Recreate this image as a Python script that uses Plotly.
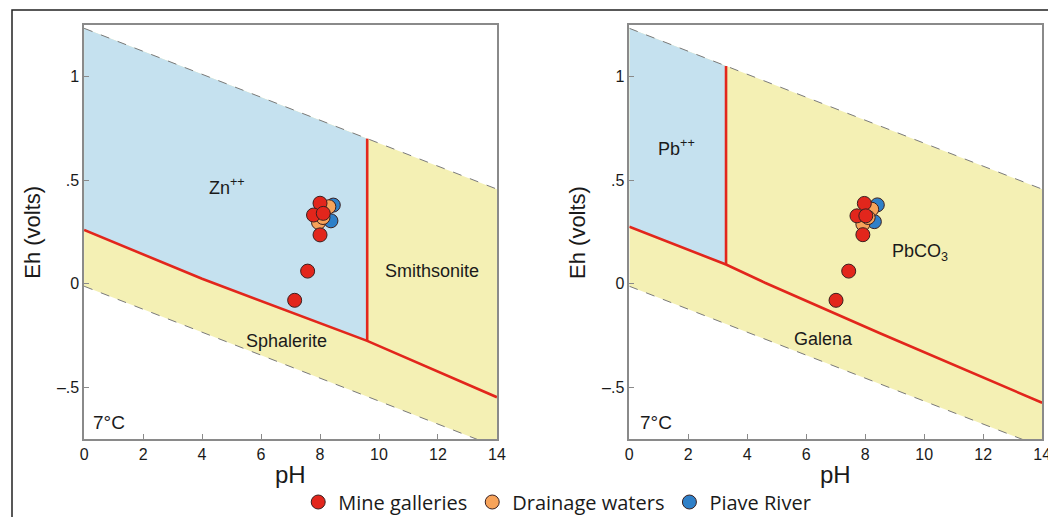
import plotly.graph_objects as go
from plotly.subplots import make_subplots

W, H = 1056, 517
OFF = 8  # page body margin that the browser adds around the figure

RED        = "#e2261c"
ORANGE     = "#f7a35a"
BLUE       = "#2f80c8"
FILL_BLUE  = "#c5e1ef"
FILL_YEL   = "#f4f0b4"
FRAME      = "#8a8a8a"
DARK       = "#1a1a1a"

# water stability limits (same on both panels)
WATER_PH    = [0, 14]
WATER_UPPER = [1.234, 0.457]
WATER_LOWER = [-0.012, -0.789]

# Zn panel boundaries
ZN_LOW_PH   = [0, 4.0, 9.6, 14]
ZN_LOW_EH   = [0.26, 0.024, -0.276, -0.548]
ZN_VERT_PH  = [9.6, 9.6]
ZN_VERT_EH  = [-0.276, 0.701]

# Pb panel boundaries
PB_LOW_PH   = [0, 3.28, 4.6, 8.5, 14]
PB_LOW_EH   = [0.275, 0.093, 0.005, -0.239, -0.575]
PB_VERT_PH  = [3.28, 3.28]
PB_VERT_EH  = [0.093, 1.052]

# samples, Zn panel
ZN_MINE_PH  = [8.0, 7.78, 8.11, 8.0, 7.58, 7.14]
ZN_MINE_EH  = [0.389, 0.332, 0.340, 0.236, 0.061, -0.080]
ZN_DRAIN_PH = [8.30, 7.95, 8.10]
ZN_DRAIN_EH = [0.372, 0.296, 0.320]
ZN_RIVER_PH = [8.45, 8.37]
ZN_RIVER_EH = [0.380, 0.304]

# samples, Pb panel
PB_MINE_PH  = [7.97, 7.72, 8.02, 7.92, 7.44, 7.01]
PB_MINE_EH  = [0.388, 0.328, 0.328, 0.237, 0.061, -0.080]
PB_DRAIN_PH = [8.22, 7.92, 8.10]
PB_DRAIN_EH = [0.360, 0.288, 0.320]
PB_RIVER_PH = [8.41, 8.31]
PB_RIVER_EH = [0.381, 0.300]

Y_TICKS  = [-0.5, 0, 0.5, 1]
Y_LABELS = ["–.5", "0", ".5", "1"]
X_TICKS  = [0, 2, 4, 6, 8, 10, 12, 14]


def px_x(p):
    return (p - OFF) / W


def px_y(p):
    return 1 - (p - OFF) / H


fig = make_subplots(rows=1, cols=2)


def add_panel(col, low_ph, low_eh, vert_ph, vert_eh, pts):
    # whole water field in yellow
    fig.add_trace(go.Scatter(
        x=WATER_PH + WATER_PH[::-1], y=WATER_UPPER + WATER_LOWER[::-1],
        fill="toself", fillcolor=FILL_YEL, mode="none",
        showlegend=False, hoverinfo="skip"), row=1, col=col)
    # aqueous ion field in blue (left of the vertical boundary)
    k = low_ph.index(vert_ph[0])
    bx = [0, vert_ph[1], vert_ph[0]] + low_ph[:k][::-1]
    by = [WATER_UPPER[0], vert_eh[1], vert_eh[0]] + low_eh[:k][::-1]
    fig.add_trace(go.Scatter(
        x=bx, y=by, fill="toself", fillcolor=FILL_BLUE, mode="none",
        showlegend=False, hoverinfo="skip"), row=1, col=col)
    for ys in (WATER_UPPER, WATER_LOWER):
        fig.add_trace(go.Scatter(
            x=WATER_PH, y=ys, mode="lines",
            line=dict(color="#7a7a7a", width=1, dash="dash"),
            showlegend=False, hoverinfo="skip"), row=1, col=col)
    fig.add_trace(go.Scatter(
        x=low_ph, y=low_eh, mode="lines", line=dict(color=RED, width=2.6),
        showlegend=False, hoverinfo="skip"), row=1, col=col)
    fig.add_trace(go.Scatter(
        x=vert_ph, y=vert_eh, mode="lines", line=dict(color=RED, width=2.6),
        showlegend=False, hoverinfo="skip"), row=1, col=col)
    # samples: river below, drainage, mine on top
    for name, color, xs, ys, rank in pts:
        fig.add_trace(go.Scatter(
            x=xs, y=ys, mode="markers", name=name,
            marker=dict(color=color, size=14, line=dict(color="#3a2020", width=1)),
            showlegend=(col == 1), legendrank=rank), row=1, col=col)


add_panel(1, ZN_LOW_PH, ZN_LOW_EH, ZN_VERT_PH, ZN_VERT_EH, [
    ("Piave River", BLUE, ZN_RIVER_PH, ZN_RIVER_EH, 3),
    ("Drainage waters", ORANGE, ZN_DRAIN_PH, ZN_DRAIN_EH, 2),
    ("Mine galleries", RED, ZN_MINE_PH, ZN_MINE_EH, 1),
])
add_panel(2, PB_LOW_PH, PB_LOW_EH, PB_VERT_PH, PB_VERT_EH, [
    ("Piave River", BLUE, PB_RIVER_PH, PB_RIVER_EH, 3),
    ("Drainage waters", ORANGE, PB_DRAIN_PH, PB_DRAIN_EH, 2),
    ("Mine galleries", RED, PB_MINE_PH, PB_MINE_EH, 1),
])

axis_style = dict(
    showline=True, mirror=True, linecolor=FRAME, linewidth=1.5,
    ticks="inside", ticklen=5, tickcolor=FRAME, showgrid=False, zeroline=False,
    tickfont=dict(family="Liberation Sans, Arial", size=16, color=DARK),
)
fig.update_xaxes(range=[0, 14], tickvals=X_TICKS, **axis_style)
fig.update_yaxes(range=[-0.75, 1.25], tickvals=Y_TICKS, ticktext=Y_LABELS, **axis_style)

fig.update_layout(
    xaxis=dict(domain=[px_x(81), px_x(499)]),
    xaxis2=dict(domain=[px_x(633), px_x(1051)]),
    yaxis=dict(domain=[px_y(439), px_y(25)]),
    yaxis2=dict(domain=[px_y(439), px_y(25)]),
)

lbl = dict(family="Liberation Sans, Arial", size=18, color=DARK)
notes = [
    ("x", "y", 4.85, 0.47, "Zn<sup>++</sup>"),
    ("x", "y", 11.8, 0.06, "Smithsonite"),
    ("x", "y", 6.87, -0.276, "Sphalerite"),
    ("x", "y", 0.85, -0.67, "7°C"),
    ("x2", "y2", 1.6, 0.66, "Pb<sup>++</sup>"),
    ("x2", "y2", 9.85, 0.15, "PbCO<sub>3</sub>"),
    ("x2", "y2", 6.6, -0.265, "Galena"),
    ("x2", "y2", 0.9, -0.67, "7°C"),
]
for xr, yr, x, y, t in notes:
    f = dict(lbl, size=19) if t == "7°C" else lbl
    fig.add_annotation(xref=xr, yref=yr, x=x, y=y, text=t, showarrow=False, font=f)

title_font = dict(family="Liberation Sans, Arial", size=22, color=DARK)
for tx in (28, 580):
    fig.add_annotation(xref="paper", yref="paper", x=px_x(tx), y=px_y(232),
                       xanchor="center", yanchor="middle",
                       text="Eh (volts)", textangle=-90, showarrow=False, font=title_font)
for tx in (290, 842):
    fig.add_annotation(xref="paper", yref="paper", x=px_x(tx), y=px_y(474),
                       xanchor="center", yanchor="middle",
                       text="pH", showarrow=False, font=dict(title_font, size=24))

# outer image frame
fig.add_shape(type="rect", xref="paper", yref="paper",
              x0=px_x(8), y0=-0.2, x1=1.2, y1=px_y(10),
              line=dict(color="#222222", width=1.5))

fig.update_layout(
    width=W, height=H,
    margin=dict(l=0, r=0, t=0, b=0),
    plot_bgcolor="white", paper_bgcolor="white",
    legend=dict(orientation="h", x=px_x(560), y=px_y(502), xanchor="center", yanchor="middle",
                font=dict(family="Open Sans", size=20, color=DARK),
                itemwidth=30, bgcolor="rgba(0,0,0,0)"),
)

fig.write_html("out.html")
